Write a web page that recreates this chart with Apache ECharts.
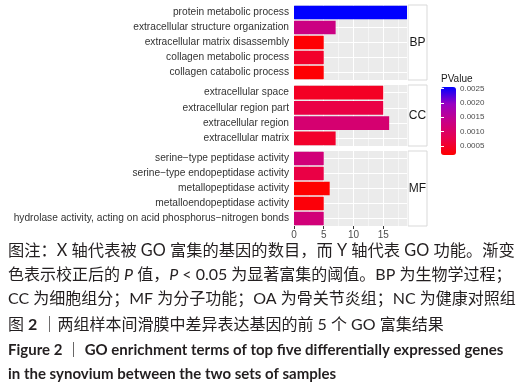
<!DOCTYPE html>
<html>
<head>
<meta charset="utf-8">
<script src="https://cdn.jsdelivr.net/npm/echarts@6/dist/echarts.min.js"></script>
<style>
html, body { margin: 0; padding: 0; background: #fff; }
#chart { width: 520px; height: 391px; }
</style>
</head>
<body>
<div id="chart"></div>
<script>
// GO terms per ontology, top five each
const bpTerms = ['protein metabolic process', 'extracellular structure organization', 'extracellular matrix disassembly', 'collagen metabolic process', 'collagen catabolic process']
const bpCounts = [19, 7, 5, 5, 5]
const bpPValues = [0.00255, 0.0013, 0.0002, 0.0005, 0.0002]

const ccTerms = ['extracellular space', 'extracellular region part', 'extracellular region', 'extracellular matrix']
const ccCounts = [15, 15, 16, 7]
const ccPValues = [0.00045, 0.0007, 0.00112, 0.0005]

const mfTerms = ['serine\u2212type peptidase activity', 'serine\u2212type endopeptidase activity', 'metallopeptidase activity', 'metalloendopeptidase activity', 'hydrolase activity, acting on acid phosphorus\u2212nitrogen bonds']
const mfCounts = [5, 5, 6, 5, 5]
const mfPValues = [0.0012, 0.0007, 0.00018, 0.00025, 0.0012]

const facetNames = ['BP', 'CC', 'MF']
const xTicks = [0, 5, 10, 15]
const pTicks = [0.0005, 0.001, 0.0015, 0.002, 0.0025]
const pMin = 0.00018
const pMax = 0.00255

const facets = [
  { terms: bpTerms, counts: bpCounts, p: bpPValues },
  { terms: ccTerms, counts: ccCounts, p: ccPValues },
  { terms: mfTerms, counts: mfCounts, p: mfPValues }
]

// panel layout
const panelLeft = 294
const panelWidth = 113
const panelTops = [5, 85, 151]
const panelHeights = [75, 61, 75]
const stripLeft = 408
const stripWidth = 19

const chart = echarts.init(document.getElementById('chart'))

const grids = []
const xAxes = []
const yAxes = []
const series = []
const graphics = []

facets.forEach((f, i) => {
  const last = i === facets.length - 1
  grids.push({
    left: panelLeft, width: panelWidth, top: panelTops[i], height: panelHeights[i],
    show: true, backgroundColor: '#EBEBEB', borderWidth: 0
  })
  xAxes.push({
    gridIndex: i, type: 'value', min: 0, max: 19, interval: 5,
    axisLine: { show: false },
    axisTick: { show: last, length: 3, customValues: xTicks, lineStyle: { color: '#333' } },
    axisLabel: { show: last, customValues: xTicks, fontSize: 10, color: '#4D4D4D', margin: 4, fontFamily: 'Liberation Sans' },
    splitLine: { show: true, lineStyle: { color: '#fff', width: 1 } }
  })
  xAxes.push({
    gridIndex: i, type: 'value', min: 0, max: 19, interval: 2.5,
    axisLine: { show: false }, axisTick: { show: false }, axisLabel: { show: false },
    splitLine: { show: true, lineStyle: { color: '#fff', width: 0.5 } }
  })
  yAxes.push({
    gridIndex: i, type: 'category', data: f.terms, inverse: true,
    axisLine: { show: false },
    axisTick: { alignWithLabel: true, length: 3, lineStyle: { color: '#333' } },
    axisLabel: { fontSize: 10.2, color: '#333', margin: 5, fontFamily: 'Liberation Sans' },
    splitLine: { show: false }
  })
  series.push({
    type: 'bar', xAxisIndex: 2 * i, yAxisIndex: i,
    data: f.terms.map((t, j) => [f.counts[j], t, f.p[j]]),
    encode: { x: 0, y: 1 },
    barWidth: '90%', z: 2,
    markLine: {
      z: 1, silent: true, symbol: 'none',
      label: { show: false },
      lineStyle: { color: '#fff', width: 1, type: 'solid' },
      emphasis: { disabled: true },
      data: f.terms.map(t => ({ yAxis: t }))
    }
  })
  graphics.push({
    type: 'rect',
    shape: { x: stripLeft, y: panelTops[i], width: stripWidth, height: panelHeights[i] },
    style: { fill: '#fff', stroke: '#D9D9D9', lineWidth: 1 }
  })
  graphics.push({
    type: 'text', x: stripLeft + stripWidth / 2, y: panelTops[i] + panelHeights[i] / 2,
    style: { text: facetNames[i], fontSize: 12, fontFamily: 'Liberation Sans', fill: '#1A1A1A', align: 'center', verticalAlign: 'middle' }
  })
})

// colour bar axis
grids.push({ left: 441, width: 15, top: 87, height: 68, show: false })
xAxes.push({ gridIndex: 3, type: 'value', show: false, min: 0, max: 1 })
yAxes.push({
  gridIndex: 3, type: 'value', min: pMin, max: pMax, position: 'right', z: 10,
  axisLine: { show: false },
  axisTick: { inside: true, length: 3, customValues: pTicks, lineStyle: { color: '#fff' } },
  axisLabel: { customValues: pTicks, fontSize: 8, color: '#4D4D4D', margin: 4, fontFamily: 'Liberation Sans', formatter: v => v.toFixed(4) },
  splitLine: { show: false }
})
yAxes.push({
  gridIndex: 3, type: 'value', min: pMin, max: pMax, position: 'left', z: 10,
  axisLine: { show: false },
  axisTick: { inside: true, length: 3, customValues: pTicks, lineStyle: { color: '#fff' } },
  axisLabel: { show: false },
  splitLine: { show: false }
})

graphics.push({
  type: 'text', x: 441, y: 79,
  style: { text: 'PValue', fontSize: 10, fontFamily: 'Liberation Sans', fill: '#1A1A1A', verticalAlign: 'middle' }
})

// caption
const capFont = 'Lato, "Noto Sans CJK SC"'
const capLines = [
  '图注：X 轴代表被 GO 富集的基因的数目，而 Y 轴代表 GO 功能。渐变',
  '色表示校正后的 {i|P} 值，{i|P} < 0.05 为显著富集的阈值。BP 为生物学过程；',
  'CC 为细胞组分；MF 为分子功能；OA 为骨关节炎组；NC 为健康对照组',
  '图 {b|2} ｜两组样本间滑膜中差异表达基因的前 5 个 GO 富集结果'
]
const capSizes = [16.3, 16, 16, 16]
const capY = [251, 275, 299, 325]
capLines.forEach((t, i) => {
  const s = capSizes[i]
  graphics.push({
    type: 'text', x: 8, y: capY[i],
    style: {
      text: t, fontSize: s, fontFamily: capFont, fill: '#231F20', verticalAlign: 'middle',
      rich: {
        i: { fontSize: s, fontFamily: capFont, fontStyle: 'italic', fill: '#231F20' },
        b: { fontSize: s, fontFamily: capFont, fontWeight: 'bold', fill: '#231F20' }
      }
    }
  })
})
const enLines = [
  'Figure 2 \uFF5C GO enrichment terms of top five differentially expressed genes',
  'in the synovium between the two sets of samples'
]
const enY = [350, 374]
enLines.forEach((t, i) => {
  graphics.push({
    type: 'text', x: 8, y: enY[i],
    style: { text: t, fontSize: 15, fontFamily: capFont, fontWeight: 'bold', fill: '#231F20', verticalAlign: 'middle' }
  })
})

chart.setOption({
  animation: false,
  grid: grids,
  xAxis: xAxes,
  yAxis: yAxes,
  visualMap: {
    type: 'continuous', min: pMin, max: pMax, dimension: 2, seriesIndex: [0, 1, 2],
    inRange: { color: ['#FF0000', '#E7004F', '#C80088', '#9900C2', '#0000FF'] },
    left: 441, top: 87, itemWidth: 15, itemHeight: 68, padding: 0,
    calculable: false, hoverLink: false, showLabel: false
  },
  series: series,
  graphic: graphics
})
</script>
</body>
</html>
